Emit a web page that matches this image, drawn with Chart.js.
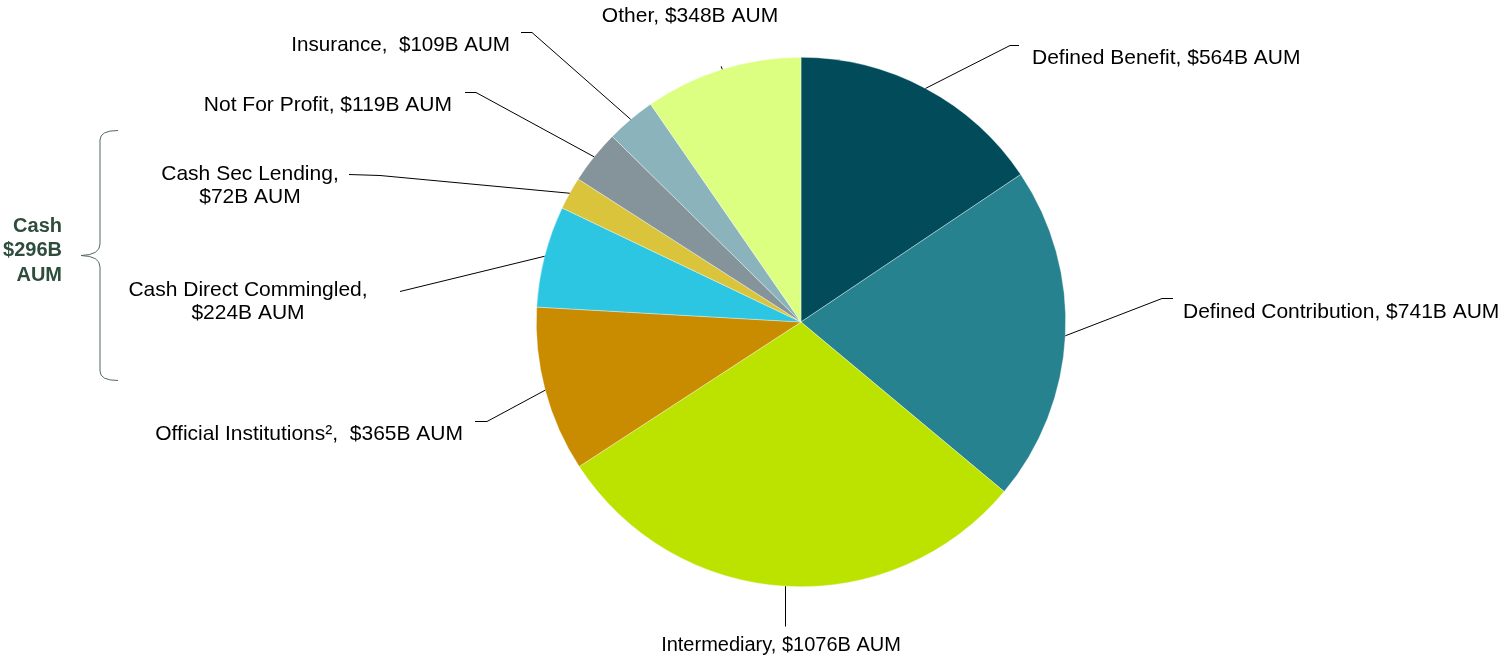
<!DOCTYPE html>
<html>
<head>
<meta charset="utf-8">
<script src="https://cdn.jsdelivr.net/npm/chart.js@4.4.0/dist/chart.umd.min.js"></script>
<style>
html,body{margin:0;padding:0;background:#fff;}
#wrap{position:relative;width:1506px;height:656px;}
</style>
</head>
<body>
<div id="wrap"><canvas id="c" width="1506" height="656"></canvas></div>
<script>
const categories = ["Defined Benefit","Defined Contribution","Intermediary","Official Institutions²","Cash Direct Commingled","Cash Sec Lending","Not For Profit","Insurance","Other"];
const aumValues = [564, 741, 1076, 365, 224, 72, 119, 109, 348];
const labelLines = [
  ["Defined Benefit, $564B AUM"],
  ["Defined Contribution, $741B AUM"],
  ["Intermediary, $1076B AUM"],
  ["Official Institutions²,  $365B AUM"],
  ["Cash Direct Commingled,", "$224B AUM"],
  ["Cash Sec Lending,", "$72B AUM"],
  ["Not For Profit, $119B AUM"],
  ["Insurance,  $109B AUM"],
  ["Other, $348B AUM"]
];
const cashGroupLabel = ["Cash", "$296B", "AUM"];
const sliceColors = ["#024b5a","#278290","#bce300","#c98b00","#2cc6e2","#d9c43b","#84949a","#8ab3bc","#dcff82"];

// label layout (positions only): elbow points and text anchor
const labelLayout = [
  {pts:[[1010,45],[1019,45]], tx:1032, ty:58, align:"left"},
  {pts:[[1162,298],[1173,298]], tx:1183, ty:312, align:"left"},
  {pts:[[785,626]], tx:781, ty:645, align:"center", vert:true, size:20},
  {pts:[[487,421],[475,421]], tx:463, ty:434, align:"right"},
  {pts:[[400,291]], tx:248, ty:290, align:"center"},
  {pts:[[380,175],[349,174]], tx:250, ty:174, align:"center"},
  {pts:[[476,92],[465,92]], tx:452, ty:105, align:"right"},
  {pts:[[532,32],[521,32]], tx:510, ty:45, align:"right", size:20.6},
  {pts:[[721,66]], tx:690, ty:16, align:"center", tiny:true}
];

const labelPlugin = {
  id: 'leaderLabels',
  afterDatasetsDraw(chart) {
    const ctx = chart.ctx;
    const meta = chart.getDatasetMeta(0);
    ctx.save();
    meta.data.forEach((arc, i) => {
      const L = labelLayout[i];
      const mid = (arc.startAngle + arc.endAngle) / 2;
      const r = arc.outerRadius;
      let sx = arc.x + Math.cos(mid) * r;
      let sy = arc.y + Math.sin(mid) * r;
      ctx.strokeStyle = '#000';
      ctx.lineWidth = 1;
      ctx.beginPath();
      if (L.tiny) {
        ctx.moveTo(sx, sy);
        ctx.lineTo(sx - 1, sy - 3);
      } else {
        if (L.vert) sx = L.pts[0][0] + 0.5;
        ctx.moveTo(sx, sy);
        L.pts.forEach(p => ctx.lineTo(p[0] + (L.vert ? 0.5 : 0), p[1] + 0.5));
      }
      ctx.stroke();
      ctx.fillStyle = '#000';
      ctx.font = (L.size || 21) + 'px "Liberation Sans", Arial, sans-serif';
      ctx.textAlign = L.align;
      ctx.textBaseline = 'middle';
      labelLines[i].forEach((t, k) => ctx.fillText(t, L.tx, L.ty + k * 23));
    });
    // Cash bracket
    ctx.strokeStyle = '#4f6a5c';
    ctx.lineWidth = 1;
    ctx.beginPath();
    ctx.moveTo(118, 130.5);
    ctx.quadraticCurveTo(100, 130.5, 100, 140);
    ctx.lineTo(100, 244);
    ctx.quadraticCurveTo(100, 255, 81, 255.5);
    ctx.quadraticCurveTo(100, 256, 100, 267);
    ctx.lineTo(100, 371);
    ctx.quadraticCurveTo(100, 380.5, 118, 380.5);
    ctx.stroke();
    ctx.fillStyle = '#2f4d3d';
    ctx.font = 'bold 20px "Liberation Sans", Arial, sans-serif';
    ctx.textAlign = 'right';
    ctx.textBaseline = 'middle';
    cashGroupLabel.forEach((t, k) => ctx.fillText(t, 62, 226 + k * 24.5));
    ctx.restore();
  }
};

new Chart(document.getElementById('c'), {
  type: 'pie',
  data: {
    labels: categories,
    datasets: [{
      data: aumValues,
      backgroundColor: sliceColors,
      borderColor: 'rgba(255,255,255,0.6)',
      borderWidth: 0.6
    }]
  },
  options: {
    responsive: false,
    animation: false,
    layout: { padding: { top: 57, bottom: 69, left: 536, right: 440 } },
    plugins: { legend: { display: false }, tooltip: { enabled: false } }
  },
  plugins: [labelPlugin]
});
</script>
</body>
</html>
